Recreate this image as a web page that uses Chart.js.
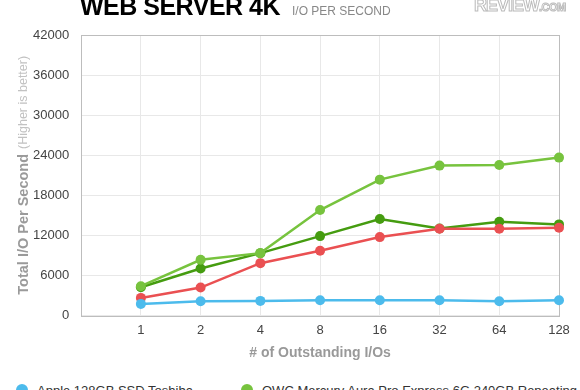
<!DOCTYPE html>
<html>
<head>
<meta charset="utf-8">
<script src="https://cdn.jsdelivr.net/npm/chart.js@4.4.1/dist/chart.umd.min.js"></script>
<style>
  html, body { margin: 0; padding: 0; background: #fff; overflow: hidden; }
  #wrap { position: relative; width: 580px; height: 440px; font-family: "Liberation Sans", Arial, sans-serif; }
  #chartBox { position: absolute; left: 0; top: 0; width: 580px; height: 375px; }
  .title { position: absolute; left: 80px; top: -8px; font-size: 25px; font-weight: bold; color: #000; letter-spacing: -0.5px; white-space: nowrap; }
  .subtitle { position: absolute; left: 292px; top: 4px; font-size: 12px; color: #888; white-space: nowrap; }
  .logo { position: absolute; left: 474px; top: -5px; font-size: 18px; font-weight: bold; color: #fff; -webkit-text-stroke: 1px #bbb; letter-spacing: -1px; white-space: nowrap; }
  .logo small { font-size: 11px; letter-spacing: -0.5px; }
  #legend { position: absolute; left: 0; top: 383px; width: 580px; font-size: 13px; color: #333; }
  .item { position: absolute; top: 0; white-space: nowrap; }
  .dot { display: inline-block; width: 12px; height: 12px; border-radius: 50%; margin-right: 9px; vertical-align: -1px; }
</style>
</head>
<body>
<div id="wrap">
  <div id="chartBox"><canvas id="myChart"></canvas></div>
  <div class="title">WEB SERVER 4K</div>
  <div class="subtitle">I/O PER SECOND</div>
  <div class="logo">REVIEW<small>.COM</small></div>
  <div id="legend"></div>
</div>
<script>
// first slot is empty so the 1..128 points sit one step in from the left edge
const labels = ['', '1', '2', '4', '8', '16', '32', '64', '128'];

const appleToshiba = [null, 1750, 2150, 2200, 2300, 2300, 2300, 2150, 2300];
const owcRepeating = [null, 4400, 8350, 9350, 15800, 20350, 22450, 22550, 23650];
const appleSamsung = [null, 2650, 4200, 7850, 9700, 11750, 13000, 13000, 13150];
const owcRandom    = [null, 4250, 7050, 9350, 11900, 14450, 13050, 14050, 13650];

const yTicks = [0, 6000, 12000, 18000, 24000, 30000, 36000, 42000];

function line(label, color, values) {
    return {
        label: label,
        data: values,
        borderColor: color,
        backgroundColor: color,
        pointBackgroundColor: color,
        pointBorderWidth: 0,
        borderWidth: 2.5,
        pointRadius: 5,
        pointHoverRadius: 5,
        tension: 0
    };
}

const data = {
    labels: labels,
    datasets: [
        line('Apple 128GB SSD Toshiba', '#4cbbec', appleToshiba),
        line('OWC Mercury Aura Pro Express 6G 240GB Repeating', '#77c33e', owcRepeating),
        line('Apple 256GB SSD Samsung', '#ea5052', appleSamsung),
        line('OWC Mercury Aura Pro Express 6G 240GB Random', '#459c10', owcRandom)
    ]
};

// full box around the plot + the two-tone y axis title
const frame = {
    id: 'frame',
    beforeDatasetsDraw(chart) {
        const a = chart.chartArea;
        const ctx = chart.ctx;
        ctx.save();
        ctx.strokeStyle = '#bdbdbd';
        ctx.lineWidth = 1;
        ctx.strokeRect(Math.round(a.left) + 0.5, Math.round(a.top) + 0.5,
            Math.round(a.right - a.left), Math.round(a.bottom - a.top));
        ctx.restore();
    },
    afterDraw(chart) {
        const a = chart.chartArea;
        const ctx = chart.ctx;
        const main = 'Total I/O Per Second';
        const note = '(Higher is better)';
        const mainFont = 'bold 14.5px "Liberation Sans", Arial, sans-serif';
        const noteFont = '12.5px "Liberation Sans", Arial, sans-serif';
        ctx.save();
        ctx.font = mainFont;
        const w1 = ctx.measureText(main).width;
        ctx.font = noteFont;
        const w2 = ctx.measureText(note).width;
        const gap = 5;
        const total = w1 + gap + w2;
        ctx.translate(24, (a.top + a.bottom) / 2);
        ctx.rotate(-Math.PI / 2);
        ctx.textBaseline = 'middle';
        ctx.textAlign = 'left';
        ctx.font = mainFont;
        ctx.fillStyle = '#9a9a9a';
        ctx.fillText(main, -total / 2, 0);
        ctx.font = noteFont;
        ctx.fillStyle = '#c2c2c2';
        ctx.fillText(note, -total / 2 + w1 + gap, 0);
        ctx.restore();
    }
};

const config = {
    type: 'line',
    data: data,
    plugins: [frame],
    options: {
        responsive: true,
        maintainAspectRatio: false,
        animation: false,
        layout: {
            padding: { top: 35, left: 21, right: 21, bottom: 13 }
        },
        scales: {
            x: {
                grid: { color: '#e8e8e8', drawTicks: false },
                border: { display: false },
                ticks: {
                    color: '#444',
                    padding: 7,
                    maxRotation: 0,
                    autoSkip: false,
                    font: { family: '"Liberation Sans", Arial, sans-serif', size: 13 }
                },
                title: {
                    display: true,
                    text: '# of Outstanding I/Os',
                    color: '#999',
                    padding: { top: 0, bottom: 0 },
                    font: { family: '"Liberation Sans", Arial, sans-serif', size: 14, weight: 'bold' }
                }
            },
            y: { // fixed range so the 6000 steps match the original
                min: 0,
                max: 42000,
                afterBuildTicks(axis) {
                    axis.ticks = yTicks.map(v => ({ value: v }));
                },
                grid: { color: '#e8e8e8', drawTicks: false },
                border: { display: false },
                ticks: {
                    color: '#444',
                    padding: 12,
                    callback: v => String(v),
                    font: { family: '"Liberation Sans", Arial, sans-serif', size: 13 }
                }
            }
        },
        plugins: {
            legend: { display: false },
            tooltip: { enabled: false }
        }
    }
};

const myChart = new Chart(document.getElementById('myChart'), config);

// legend drawn as html, two columns like the original (second row falls below the window)
const legendEl = document.getElementById('legend');
const cols = [16, 241];
myChart.data.datasets.forEach((ds, i) => {
    const item = document.createElement('div');
    item.className = 'item';
    item.style.left = cols[i % 2] + 'px';
    item.style.top = (Math.floor(i / 2) * 24) + 'px';
    item.innerHTML = '<span class="dot" style="background:' + ds.borderColor + '"></span>' + ds.label;
    legendEl.appendChild(item);
});
</script>
</body>
</html>
